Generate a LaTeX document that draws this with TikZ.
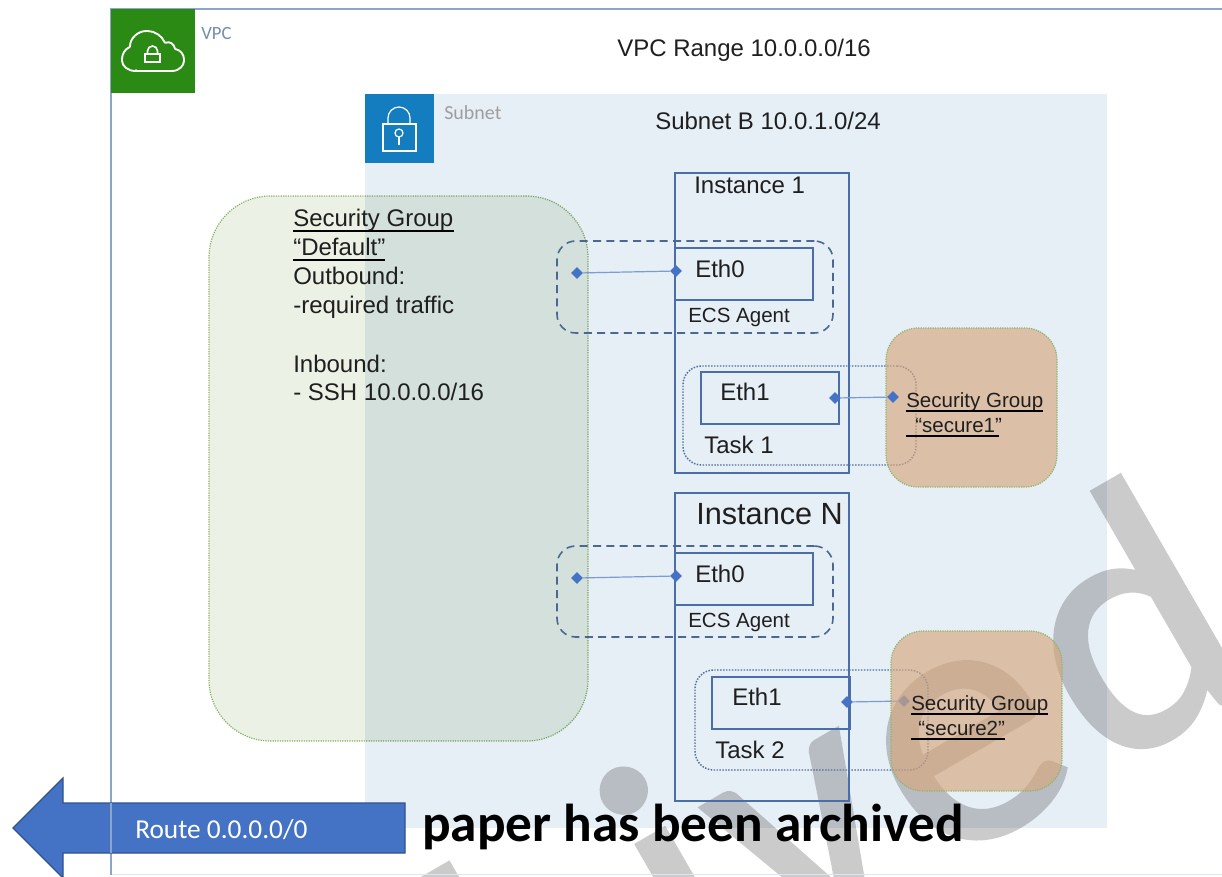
\documentclass[tikz,border=0pt]{standalone}
\usepackage{fontspec}
\setmainfont{Liberation Sans}
\newfontfamily\calib{Carlito}
\newfontfamily\wmfont[FakeBold=1.4,LetterSpace=4]{Carlito}
\usetikzlibrary{shapes.geometric,fit}
\definecolor{framec}{HTML}{8AA6CC}
\definecolor{framel}{HTML}{DCE6F0}
\definecolor{boxc}{HTML}{4A6FA8}
\definecolor{dashc}{HTML}{4A6890}
\definecolor{dotc}{HTML}{4F6E9C}
\definecolor{linkc}{HTML}{7C9DD2}
\definecolor{dia}{HTML}{4472C4}
\definecolor{subn}{HTML}{E6EEF6}
\definecolor{greenf}{HTML}{EBF1E4}
\definecolor{greend}{HTML}{8DB56A}
\definecolor{tanf}{HTML}{D7A87F}
\definecolor{wm}{HTML}{CBCBCB}
\definecolor{vpcg}{HTML}{2A8A14}
\definecolor{subb}{HTML}{147DC0}
\definecolor{arrowb}{HTML}{2F528F}
\newcommand{\bx}[6]{\coordinate (n1) at (#2,#3);\coordinate (n2) at (#4,#5);\node[fit=(n1)(n2),inner sep=0pt,#6] (#1) {};}
\newcommand{\tx}[5][18]{\node[txt,font={\fontsize{#1}{#1}\selectfont},#5] (#2) at (#3) {#4};}
\tikzset{
  txt/.style={anchor=base west,inner sep=0pt,text=black!88},
  solidbox/.style={draw=boxc,line width=1.5pt},
  dashbox/.style={draw=dashc,line width=1.2pt,dash pattern=on 6pt off 4pt,rounded corners=14pt},
  dotbox/.style={draw=dotc,line width=1.1pt,dash pattern=on 1.1pt off 1.1pt,rounded corners=14pt},
  sgroup/.style={fill=greenf,draw=greend,line width=.9pt,dash pattern=on .9pt off .9pt,blend mode=multiply,rounded corners=46pt},
  tanbox/.style={fill=tanf,fill opacity=.67,draw=greend,line width=.9pt,dash pattern=on .9pt off .9pt,rounded corners=24pt},
  port/.style={diamond,fill=dia,inner sep=0pt,minimum size=9pt},
  link/.style={draw=linkc,line width=.9pt},
  uline/.style={draw=black,line width=1.2pt},
  icon/.style={draw=white,line width=1.2pt},
}
\begin{document}
\begin{tikzpicture}[x=.75pt,y=-.75pt]
\useasboundingbox (0,0) rectangle (1222,876);
\clip (0,0) rectangle (1222,876);
% watermark
\node[anchor=base east,inner sep=0pt,rotate=30,text=wm,font={\wmfont\fontsize{270}{270}\selectfont}] (mark) at (1267,680) {Archived};
% subnet and VPC
\bx{subnet}{365}{94}{1107}{828}{fill=subn,blend mode=multiply}
\bx{vpc}{111}{9}{1260}{874.5}{draw=framec,line width=1pt}
\coordinate (fl) at (112,874.5);\coordinate (fr) at (1222,874.5);
\draw[draw=framel,line width=1.4pt] (fl) -- (fr);
\bx{vpcicon}{111}{9}{195}{93}{fill=vpcg}
\bx{subicon}{365}{94}{434}{163}{fill=subb}
% VPC icon
\draw[icon,line width=1.4pt,rounded corners=.5pt] (136,71) -- (171,71) .. controls (180,71) and (184,65) .. (184,60) .. controls (184,54) and (180,50) .. (175,49) .. controls (174,44) and (170,41) .. (165,43) .. controls (162,36) and (155,31) .. (147,31) .. controls (138,31) and (130,38) .. (130,47) .. controls (125,49) and (122,54) .. (122,60) .. controls (122,66) and (128,71) .. (136,71) -- cycle;
\draw[icon] (145,54) rectangle (160,62);
\draw[icon] (147.5,54) -- (147.5,51) arc[start angle=180,end angle=360,radius=5] -- (157.5,54);
% subnet icon
\draw[icon,line width=.9pt] (383,124) rectangle (416,151);
\draw[icon,line width=.9pt] (388,124) -- (388,118) arc[start angle=180,end angle=360,radius=11] -- (410,124);
\draw[icon,line width=.9pt] (399,133) circle[radius=4];
\draw[icon,line width=.9pt] (399,137) -- (399,145);
% default group
\bx{sgdefault}{209}{196}{588}{741}{sgroup}
% boxes, instance 1
\bx{inst1}{675}{173}{849}{473}{solidbox}
\bx{eth01}{675}{248}{813}{300}{solidbox}
\bx{agent1}{557}{241}{833}{333}{dashbox}
\bx{eth11}{701}{372}{839}{424}{solidbox}
\bx{task1}{683}{366}{916}{465}{dotbox}
\bx{tan1}{886}{328}{1057}{487}{tanbox}
% instance N
\bx{instN}{675}{493}{849}{801}{solidbox}
\bx{eth0N}{675}{553}{813}{605}{solidbox}
\bx{agentN}{557}{546}{833}{637}{dashbox}
\bx{eth1N}{712}{677}{850}{729}{solidbox}
\bx{task2}{695}{670}{928}{770}{dotbox}
% ports and links
\node[port] (p1) at (577,273) {};
\node[port] (p2) at (676,271) {};
\draw[link] (p1) -- (p2);
\node[port] (p3) at (835,398) {};
\node[port] (p4) at (893,397) {};
\draw[link] (p3) -- (p4);
\node[port] (p5) at (577,578) {};
\node[port] (p6) at (676,576) {};
\draw[link] (p5) -- (p6);
\node[port] (p7) at (847,702) {};
\node[port] (p8) at (904,701) {};
\draw[link] (p7) -- (p8);
\bx{tan2}{891}{631}{1062}{791}{tanbox}
% texts
\node[txt,text=framec!85!black,font={\calib\fontsize{14}{16}\selectfont}] (tvpc) at (201,39) {VPC};
\node[txt,text=black!38,font={\calib\fontsize{15}{18}\selectfont}] (tsub) at (444,119) {Subnet};
\tx{trange}{617,56}{VPC Range 10.0.0.0/16}{}
\tx{tsubb}{655,129}{Subnet B 10.0.1.0/24}{}
\tx{tsg}{293,226}{Security Group}{}
\tx{tdef}{293,255}{“Default”}{}
\tx{tout}{293,284}{Outbound:}{}
\tx{treq}{293,313}{-required traffic}{}
\tx{tin}{293,372}{Inbound:}{}
\tx{tssh}{293,400}{- SSH 10.0.0.0/16}{}
\draw[uline] (tsg.base west) ++(0,5) -- ++(161,0);
\draw[uline] (tdef.base west) ++(0,5) -- ++(92,0);
\tx{ti1}{694,193}{Instance 1}{}
\tx{te01}{695,277}{Eth0}{}
\tx[15.4]{ta1}{688,322}{ECS Agent}{}
\tx{te11}{720,400}{Eth1}{}
\tx{tt1}{704,453}{Task 1}{}
\tx[15.4]{ts1}{906,407}{Security Group}{}
\tx[15.4]{tq1}{915,432}{“secure1”}{}
\draw[uline] (906,411) -- (1043,411);
\draw[uline] (906,436) -- (999,436);
\tx[23]{tiN}{696,524}{Instance N}{}
\tx{te0N}{695,582}{Eth0}{}
\tx[15.4]{taN}{688,627}{ECS Agent}{}
\tx{te1N}{732,705}{Eth1}{}
\tx{tt2}{715,758}{Task 2}{}
\tx[15.4]{ts2}{911,710}{Security Group}{}
\tx[15.4]{tq2}{918,735}{“secure2”}{}
\draw[uline] (911,714) -- (1048,714);
\draw[uline] (911,739) -- (1005,739);
% banner
\node[anchor=base west,inner sep=0pt,text=black,font={\calib\bfseries\fontsize{40}{48}\selectfont}] (banner) at (422,841) {paper has been archived};
% route arrow
\draw[fill=dia,draw=arrowb,line width=.9pt] (405,803) -- (63,803) -- (63,778) -- (13,828) -- (63,878) -- (63,853) -- (405,853) -- cycle;
\coordinate (lt) at (111,803);\coordinate (lb) at (111,853);
\draw[draw=framec,line width=.8pt] (lt) -- (lb);
\node[anchor=base west,inner sep=0pt,text=white,font={\calib\fontsize{20.5}{24}\selectfont}] (troute) at (135,838) {Route 0.0.0.0/0};
\end{tikzpicture}
\end{document}
